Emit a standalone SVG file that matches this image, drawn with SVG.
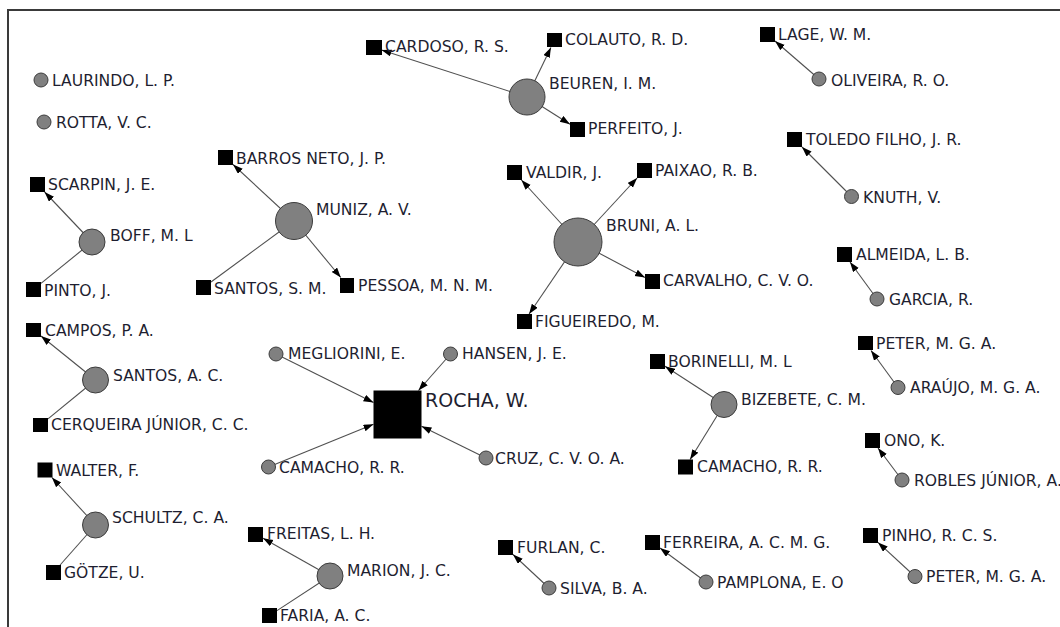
<svg xmlns="http://www.w3.org/2000/svg" width="1060" height="627" viewBox="0 0 1060 627">
<style>
.c{fill:#808080;stroke:#3c3c3c;stroke-width:1}
.s{fill:#000}
.t{font-family:"DejaVu Sans",Verdana,sans-serif;font-size:15.6px;fill:#1e1e30}
.tb{font-family:"DejaVu Sans",Verdana,sans-serif;font-size:19px;fill:#1e1e30}
#edges line{stroke:#505050;stroke-width:1.1}
.a{marker-end:url(#arr)}
</style>
<defs>
<marker id="arr" markerUnits="userSpaceOnUse" markerWidth="11" markerHeight="8" refX="10" refY="3.5" orient="auto">
<path d="M0,0 L10,3.5 L0,7 Z" fill="#000"/>
</marker>
</defs>
<rect width="1060" height="627" fill="#fff"/>
<path d="M8,627 V10 H1060" fill="none" stroke="#3a3a3a" stroke-width="2"/>
<g id="edges">
<line class="a" x1="92" y1="242" x2="44.6" y2="192"/>
<line x1="92" y1="242" x2="41" y2="283.4"/>
<line class="a" x1="294" y1="221" x2="233" y2="164.5"/>
<line x1="294" y1="221" x2="211" y2="282"/>
<line class="a" x1="294" y1="221" x2="340.8" y2="277.5"/>
<line class="a" x1="527" y1="97" x2="381.5" y2="49.9"/>
<line class="a" x1="527" y1="97" x2="550.9" y2="47.5"/>
<line class="a" x1="527" y1="97" x2="570" y2="124.2"/>
<line class="a" x1="578" y1="242" x2="521.4" y2="180"/>
<line class="a" x1="578" y1="242" x2="637.1" y2="178"/>
<line class="a" x1="578" y1="242" x2="645" y2="277.5"/>
<line class="a" x1="578" y1="242" x2="529.1" y2="314"/>
<line class="a" x1="819" y1="79" x2="775" y2="41"/>
<line class="a" x1="851.5" y1="196.5" x2="802" y2="147"/>
<line class="a" x1="877" y1="299" x2="850" y2="262"/>
<line class="a" x1="898" y1="387.5" x2="871" y2="350.5"/>
<line class="a" x1="95.5" y1="380" x2="41" y2="336"/>
<line x1="95.5" y1="380" x2="48" y2="418.9"/>
<line class="a" x1="276" y1="354" x2="373.5" y2="402.5"/>
<line class="a" x1="450.5" y1="354" x2="418.5" y2="390.5"/>
<line class="a" x1="268.5" y1="467" x2="373.5" y2="424.3"/>
<line class="a" x1="486" y1="458" x2="421.5" y2="426.3"/>
<line class="a" x1="724" y1="404.5" x2="665" y2="366.3"/>
<line class="a" x1="724" y1="404.5" x2="690.1" y2="459.5"/>
<line class="a" x1="902" y1="480" x2="878" y2="448"/>
<line class="a" x1="95.5" y1="525" x2="51.9" y2="477.5"/>
<line x1="95.5" y1="525" x2="60.1" y2="565"/>
<line class="a" x1="330" y1="576" x2="263" y2="538.2"/>
<line x1="330" y1="576" x2="277" y2="610.6"/>
<line class="a" x1="549" y1="588" x2="513" y2="554.5"/>
<line class="a" x1="706" y1="582" x2="660" y2="548"/>
<line class="a" x1="915" y1="576.5" x2="878" y2="542.4"/>
</g>
<g id="n-laurindo"><circle class="c" cx="41" cy="80" r="7"/><text class="t" x="52" y="86">LAURINDO, L. P.</text></g>
<g id="n-rotta"><circle class="c" cx="44" cy="122" r="7"/><text class="t" x="56" y="128">ROTTA, V. C.</text></g>
<g id="n-scarpin"><rect class="s" x="30" y="177" width="15" height="15"/><text class="t" x="48" y="190">SCARPIN, J. E.</text></g>
<g id="n-boff"><circle class="c" cx="92" cy="242" r="13"/><text class="t" x="110" y="241">BOFF, M. L</text></g>
<g id="n-pinto"><rect class="s" x="26" y="282" width="15" height="15"/><text class="t" x="44" y="296">PINTO, J.</text></g>
<g id="n-barros"><rect class="s" x="218" y="150" width="15" height="15"/><text class="t" x="236" y="164">BARROS NETO, J. P.</text></g>
<g id="n-muniz"><circle class="c" cx="294" cy="221" r="18.5"/><text class="t" x="316" y="215">MUNIZ, A. V.</text></g>
<g id="n-santossm"><rect class="s" x="196" y="280" width="15" height="15"/><text class="t" x="214" y="294">SANTOS, S. M.</text></g>
<g id="n-pessoa"><rect class="s" x="340" y="278" width="14" height="15"/><text class="t" x="358" y="291">PESSOA, M. N. M.</text></g>
<g id="n-cardoso"><rect class="s" x="366" y="40" width="16" height="15"/><text class="t" x="385" y="52">CARDOSO, R. S.</text></g>
<g id="n-colauto"><rect class="s" x="547" y="33" width="15" height="14"/><text class="t" x="565" y="45">COLAUTO, R. D.</text></g>
<g id="n-beuren"><circle class="c" cx="527" cy="97" r="18"/><text class="t" x="549" y="89">BEUREN, I. M.</text></g>
<g id="n-perfeito"><rect class="s" x="570" y="122" width="15" height="15"/><text class="t" x="588" y="134">PERFEITO, J.</text></g>
<g id="n-valdir"><rect class="s" x="507" y="165" width="15" height="15"/><text class="t" x="526" y="178">VALDIR, J.</text></g>
<g id="n-paixao"><rect class="s" x="637" y="163" width="15" height="15"/><text class="t" x="655" y="176">PAIXAO, R. B.</text></g>
<g id="n-bruni"><circle class="c" cx="578" cy="242" r="24"/><text class="t" x="606" y="231">BRUNI, A. L.</text></g>
<g id="n-carvalho"><rect class="s" x="645" y="274" width="15" height="15"/><text class="t" x="663" y="286">CARVALHO, C. V. O.</text></g>
<g id="n-figueiredo"><rect class="s" x="517" y="314" width="15" height="15"/><text class="t" x="535" y="327">FIGUEIREDO, M.</text></g>
<g id="n-lage"><rect class="s" x="760" y="27" width="15" height="15"/><text class="t" x="778" y="40">LAGE, W. M.</text></g>
<g id="n-oliveira"><circle class="c" cx="819" cy="79" r="7"/><text class="t" x="831" y="86">OLIVEIRA, R. O.</text></g>
<g id="n-toledo"><rect class="s" x="787" y="132" width="15" height="15"/><text class="t" x="806" y="145">TOLEDO FILHO, J. R.</text></g>
<g id="n-knuth"><circle class="c" cx="851.5" cy="196.5" r="7"/><text class="t" x="863" y="203">KNUTH, V.</text></g>
<g id="n-almeida"><rect class="s" x="837" y="247" width="15" height="15"/><text class="t" x="856" y="260">ALMEIDA, L. B.</text></g>
<g id="n-garcia"><circle class="c" cx="877" cy="299" r="7"/><text class="t" x="889" y="305">GARCIA, R.</text></g>
<g id="n-peter1"><rect class="s" x="858" y="336" width="15" height="14"/><text class="t" x="876" y="349">PETER, M. G. A.</text></g>
<g id="n-araujo"><circle class="c" cx="898" cy="387.5" r="7"/><text class="t" x="910" y="393">ARAÚJO, M. G. A.</text></g>
<g id="n-campos"><rect class="s" x="26" y="323" width="15" height="14"/><text class="t" x="45" y="336">CAMPOS, P. A.</text></g>
<g id="n-santosac"><circle class="c" cx="95.5" cy="380" r="13"/><text class="t" x="113" y="381">SANTOS, A. C.</text></g>
<g id="n-cerqueira"><rect class="s" x="33" y="418" width="15" height="14"/><text class="t" x="51" y="430">CERQUEIRA JÚNIOR, C. C.</text></g>
<g id="n-megliorini"><circle class="c" cx="276" cy="354" r="7"/><text class="t" x="288" y="359">MEGLIORINI, E.</text></g>
<g id="n-hansen"><circle class="c" cx="450.5" cy="354" r="7"/><text class="t" x="462" y="359">HANSEN, J. E.</text></g>
<g id="n-rocha"><rect class="s" x="373.5" y="390.5" width="48" height="48"/><text class="tb" x="425" y="407">ROCHA, W.</text></g>
<g id="n-camacho1"><circle class="c" cx="268.5" cy="467" r="7"/><text class="t" x="279" y="473">CAMACHO, R. R.</text></g>
<g id="n-cruz"><circle class="c" cx="486" cy="458" r="7"/><text class="t" x="495" y="464">CRUZ, C. V. O. A.</text></g>
<g id="n-borinelli"><rect class="s" x="650" y="354" width="15" height="15"/><text class="t" x="668" y="367">BORINELLI, M. L</text></g>
<g id="n-bizebete"><circle class="c" cx="724" cy="404.5" r="13"/><text class="t" x="741" y="405">BIZEBETE, C. M.</text></g>
<g id="n-camacho2"><rect class="s" x="678" y="459.5" width="15" height="15"/><text class="t" x="697" y="472">CAMACHO, R. R.</text></g>
<g id="n-ono"><rect class="s" x="865" y="433" width="15" height="15"/><text class="t" x="884" y="446">ONO, K.</text></g>
<g id="n-robles"><circle class="c" cx="902" cy="480" r="7"/><text class="t" x="914" y="486">ROBLES JÚNIOR, A.</text></g>
<g id="n-walter"><rect class="s" x="37.5" y="462.5" width="15" height="15"/><text class="t" x="56" y="476">WALTER, F.</text></g>
<g id="n-schultz"><circle class="c" cx="95.5" cy="525" r="13"/><text class="t" x="112" y="523">SCHULTZ, C. A.</text></g>
<g id="n-gotze"><rect class="s" x="46" y="565" width="15" height="15"/><text class="t" x="64" y="578">GÖTZE, U.</text></g>
<g id="n-freitas"><rect class="s" x="248" y="527" width="15" height="15"/><text class="t" x="267" y="539">FREITAS, L. H.</text></g>
<g id="n-marion"><circle class="c" cx="330" cy="576" r="13"/><text class="t" x="347" y="576">MARION, J. C.</text></g>
<g id="n-faria"><rect class="s" x="262" y="608" width="15" height="15"/><text class="t" x="280" y="621">FARIA, A. C.</text></g>
<g id="n-furlan"><rect class="s" x="498" y="540" width="15" height="15"/><text class="t" x="517" y="553">FURLAN, C.</text></g>
<g id="n-silva"><circle class="c" cx="549" cy="588" r="7"/><text class="t" x="560" y="594">SILVA, B. A.</text></g>
<g id="n-ferreira"><rect class="s" x="645" y="535" width="15" height="15"/><text class="t" x="663" y="548">FERREIRA, A. C. M. G.</text></g>
<g id="n-pamplona"><circle class="c" cx="706" cy="582" r="7"/><text class="t" x="717" y="588">PAMPLONA, E. O</text></g>
<g id="n-pinho"><rect class="s" x="863" y="528" width="15" height="15"/><text class="t" x="882" y="541">PINHO, R. C. S.</text></g>
<g id="n-peter2"><circle class="c" cx="915" cy="576.5" r="7"/><text class="t" x="926" y="582">PETER, M. G. A.</text></g>
</svg>
